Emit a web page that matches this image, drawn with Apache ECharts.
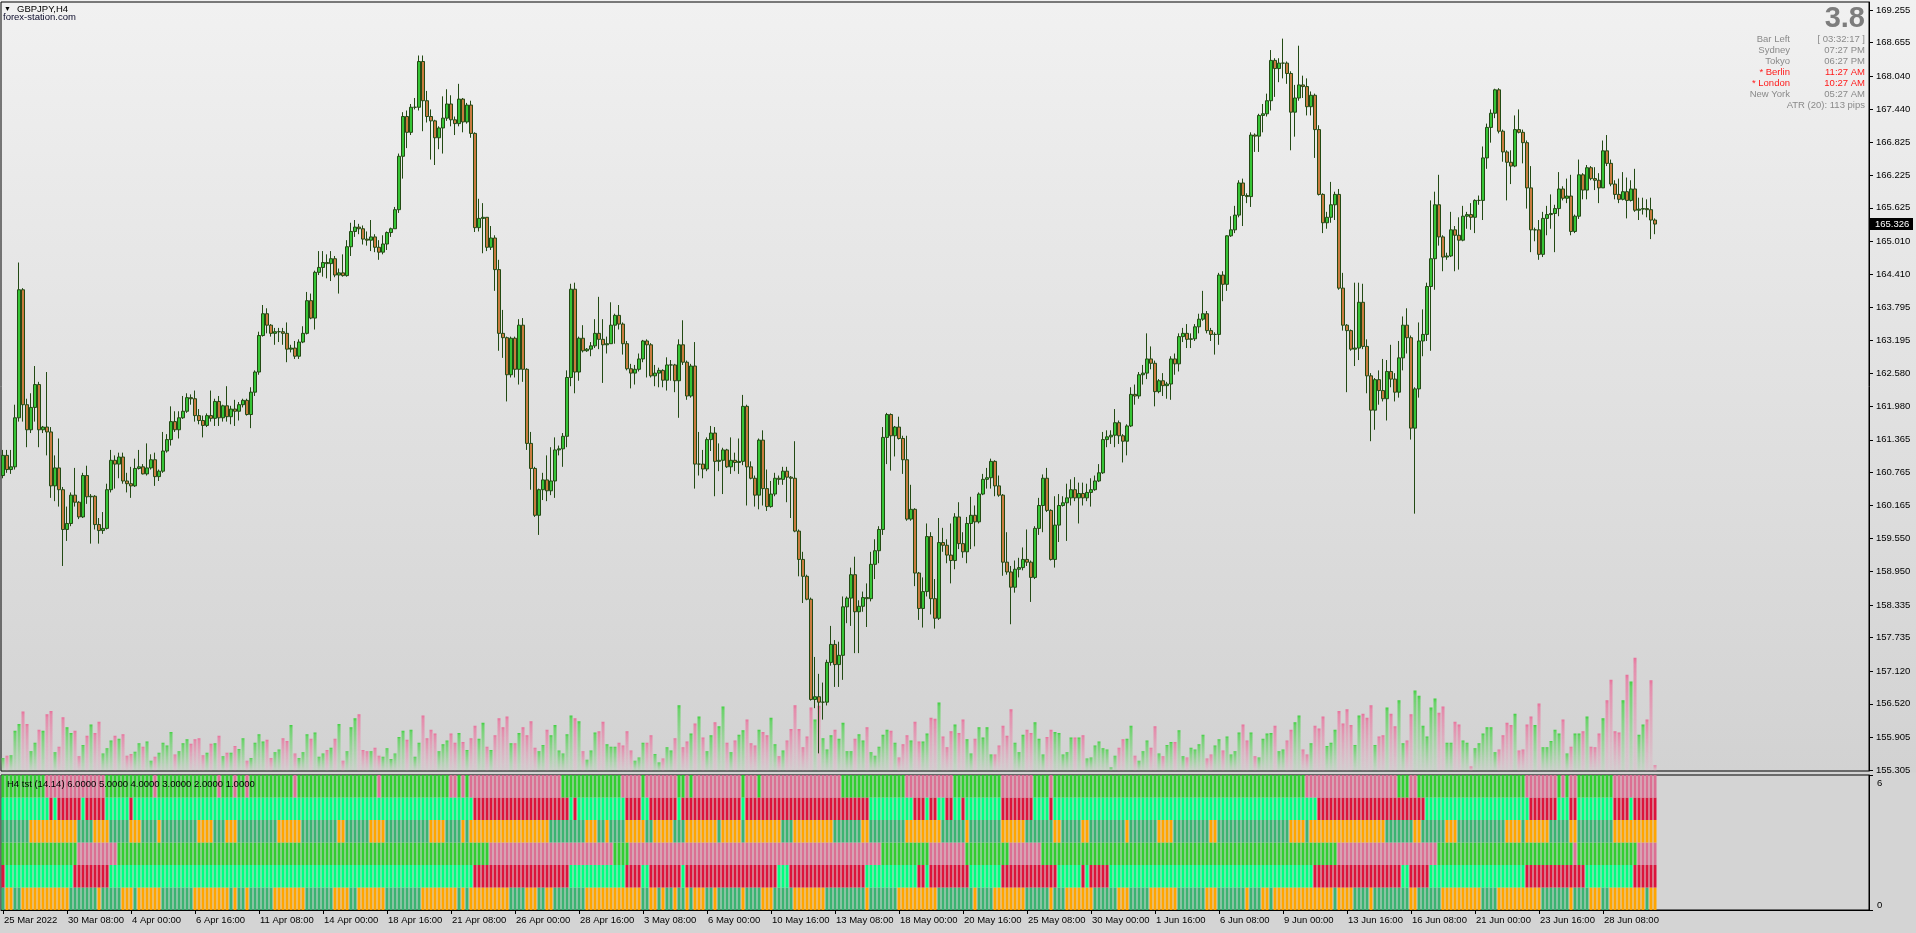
<!DOCTYPE html>
<html><head><meta charset="utf-8">
<script src="https://cdn.jsdelivr.net/npm/echarts@6/dist/echarts.min.js"></script>
<style>
html,body{margin:0;padding:0;width:1916px;height:933px;overflow:hidden;
background:linear-gradient(to bottom,#f1f1f1 0px,#d2d2d2 772px,#d4d4d4 773px,#d4d4d4 933px);}
#c{width:1916px;height:933px;}
</style></head><body><div id="c"></div>
<script>
// ---------------- DATA ----------------
const symbolTitle = 'GBPJPY,H4';
const firstOpen = 160.71;
const closes = [
161.08,160.82,160.87,161.77,164.12,162.01,161.55,161.96,162.38,161.55,
161.60,161.51,160.52,160.85,160.45,159.72,159.83,160.35,160.22,159.95,
160.71,160.32,160.33,159.81,159.70,159.74,160.45,160.99,160.92,161.05,
160.61,160.56,160.52,160.84,160.87,160.74,160.85,161.00,160.69,160.79,
161.16,161.37,161.70,161.55,161.77,161.89,162.14,162.12,161.81,161.72,
161.63,161.81,161.76,162.07,161.77,161.99,161.79,161.93,161.89,162.01,
162.09,161.83,162.24,162.61,163.28,163.68,163.47,163.32,163.35,163.35,
163.32,163.03,163.05,162.90,163.16,163.32,163.92,163.60,164.44,164.53,
164.62,164.60,164.69,164.39,164.43,164.38,164.91,165.19,165.27,165.24,
165.05,165.03,165.09,164.90,164.81,164.96,165.17,165.24,165.59,166.57,
167.30,167.01,167.47,167.47,168.31,167.59,167.30,167.22,166.91,167.09,
167.27,167.53,167.24,167.17,167.62,167.20,167.51,166.99,165.26,165.43,
165.45,164.90,165.07,164.49,163.32,163.24,162.56,163.23,162.66,163.47,
162.66,161.30,160.84,159.98,160.45,160.63,160.43,160.61,161.18,161.20,
161.43,162.51,164.13,162.61,163.23,163.00,163.03,163.09,163.32,163.21,
163.11,163.13,163.47,163.65,163.49,163.13,162.67,162.59,162.66,162.85,
163.18,163.11,162.54,162.59,162.64,162.46,162.74,162.74,162.45,163.11,
162.79,162.17,162.72,160.92,160.92,160.83,161.37,161.49,160.97,160.99,
161.18,160.87,160.99,160.95,160.97,161.98,160.87,160.66,160.35,161.36,
160.47,160.14,160.37,160.66,160.64,160.79,160.68,160.66,159.69,159.17,
158.86,158.44,156.60,156.65,156.55,156.55,157.28,157.61,157.24,157.41,
158.30,158.46,158.89,158.21,158.31,158.47,158.45,159.08,159.33,159.72,
161.41,161.83,161.44,161.60,161.39,161.00,159.91,160.09,158.92,158.27,
158.58,159.59,158.45,158.09,159.48,159.43,159.25,159.15,159.95,159.46,
159.31,159.83,159.98,159.86,160.37,160.64,160.67,160.97,160.52,160.35,
159.12,158.94,158.66,158.99,159.02,159.17,159.12,158.84,159.74,160.16,
160.66,160.07,159.17,159.80,160.16,160.21,160.30,160.45,160.30,160.38,
160.30,160.40,160.45,160.61,160.76,161.37,161.42,161.45,161.68,161.44,
161.34,161.62,162.20,162.17,162.56,162.59,162.85,162.77,162.25,162.45,
162.36,162.39,162.85,162.76,163.26,163.32,163.21,163.22,163.44,163.58,
163.68,163.37,163.30,163.30,164.39,164.22,165.11,165.22,165.49,166.08,
165.85,165.83,166.96,166.94,167.32,167.35,167.59,168.33,168.18,168.28,
168.28,168.09,167.38,167.64,167.88,167.85,167.48,167.69,167.06,165.87,
165.35,165.45,165.68,165.87,164.15,163.47,163.37,163.03,163.05,163.89,
163.08,162.54,161.91,162.47,162.27,162.12,162.62,162.48,162.24,162.87,
163.47,163.24,161.58,162.30,163.18,163.30,164.18,164.69,165.68,165.09,
164.72,164.74,165.22,165.12,165.03,165.47,165.50,165.45,165.76,165.76,
166.54,167.10,167.36,167.79,167.03,166.65,166.46,166.39,167.06,167.01,
166.82,165.99,165.22,165.22,164.77,165.43,165.50,165.52,165.61,165.97,
165.80,165.84,165.19,165.47,166.23,165.95,166.36,166.16,166.13,165.99,
166.67,166.44,166.06,165.87,165.78,165.92,165.76,165.97,165.58,165.60,
165.61,165.59,165.40,165.326];
const highs = [
161.18,161.18,161.18,162.01,164.62,164.15,162.12,162.22,162.72,162.43,
161.62,162.61,161.60,161.08,161.39,160.50,160.14,160.40,160.85,160.24,
160.76,160.89,160.37,160.35,159.93,160.04,160.56,161.18,161.08,161.13,
161.13,160.76,160.87,161.02,161.18,160.92,161.30,161.10,161.13,160.82,
161.51,161.47,161.98,161.89,161.89,162.17,162.22,162.20,162.27,161.93,
161.81,161.85,162.27,162.12,162.17,162.01,162.35,161.99,162.10,162.06,
162.12,162.12,162.33,162.64,163.35,163.84,163.78,163.49,163.42,163.42,
163.42,163.52,163.11,163.18,163.21,163.45,164.08,164.05,164.47,164.83,
164.83,164.77,164.83,164.74,164.51,164.77,165.03,165.35,165.40,165.33,
165.30,165.19,165.40,165.14,165.03,165.12,165.19,165.26,165.64,166.62,
167.38,167.41,167.53,167.64,168.42,168.42,167.77,167.43,167.24,167.12,
167.67,167.80,167.69,167.30,167.90,167.64,167.55,167.59,167.01,165.79,
165.71,165.45,165.29,165.12,164.67,163.75,163.26,163.26,163.26,163.58,
163.60,162.68,161.51,160.87,160.47,160.76,161.08,161.23,161.41,161.26,
161.49,162.64,164.23,164.25,163.26,163.47,163.05,163.16,163.58,163.99,
163.58,163.26,163.89,163.68,163.84,163.52,163.18,162.76,162.74,162.95,
163.20,163.21,163.14,162.74,162.69,162.66,162.88,162.83,162.76,163.21,
163.56,162.82,162.76,163.16,161.51,161.18,161.41,161.62,161.60,161.30,
161.22,161.20,161.41,161.13,161.39,162.19,162.01,160.97,160.71,161.39,
161.54,160.82,160.61,160.76,160.71,160.87,160.87,160.70,161.34,159.72,
159.31,158.89,158.47,157.38,157.07,156.91,157.33,157.95,157.69,157.66,
158.49,158.49,159.02,159.22,158.42,158.58,158.73,159.31,159.54,159.78,
161.60,161.86,161.85,161.62,161.79,161.44,161.44,160.54,160.11,158.94,
158.84,159.83,159.67,158.81,159.93,159.75,159.54,159.83,160.02,160.22,
159.67,159.95,160.32,160.16,160.40,160.74,160.85,161.02,160.99,160.71,
160.37,159.67,159.05,159.15,159.20,159.39,159.72,159.15,159.78,160.30,
160.73,160.85,160.09,160.33,160.37,160.33,160.56,160.64,160.68,160.58,
160.58,160.56,160.66,160.71,160.92,161.51,161.54,161.54,161.93,161.72,
161.47,161.65,162.33,162.38,162.61,162.74,163.32,163.08,162.82,162.48,
162.59,162.43,162.90,162.95,163.32,163.42,163.49,163.32,163.49,163.68,
164.10,163.73,163.42,163.34,164.43,164.46,165.12,165.47,165.66,166.13,
166.16,165.89,167.01,166.99,167.35,167.53,167.72,168.52,168.37,168.37,
168.73,168.31,168.13,167.88,168.60,168.05,168.00,167.76,167.72,167.14,
165.89,165.55,166.10,165.92,165.97,164.43,163.49,163.39,164.25,164.25,
164.23,163.21,162.59,162.50,162.64,162.85,162.83,163.11,162.59,163.18,
163.63,163.78,163.28,162.33,163.52,163.76,164.25,165.76,165.92,166.23,
165.12,164.80,165.55,165.29,165.45,165.66,165.55,165.71,165.78,165.85,
166.75,167.17,167.43,167.81,167.82,167.06,166.68,166.68,167.32,167.43,
167.06,166.86,166.39,165.26,165.40,165.55,165.66,165.87,165.68,166.28,
166.02,166.16,166.23,165.50,166.51,166.26,166.41,166.39,166.37,166.26,
166.86,166.96,166.51,166.13,166.16,166.28,166.18,166.13,166.34,165.81,
165.81,165.78,165.81,165.43];
const lows = [
160.66,160.76,160.74,160.82,161.70,161.70,161.23,161.49,161.70,161.23,
161.49,161.08,160.30,160.24,160.14,159.05,159.51,159.78,160.14,159.91,
159.93,160.19,159.46,159.72,159.46,159.64,159.72,160.40,160.47,160.66,
160.56,160.40,160.30,160.50,160.82,160.73,160.71,160.82,160.52,160.61,
160.76,161.13,161.26,161.51,161.39,161.75,161.86,162.01,161.70,161.65,
161.41,161.60,161.70,161.62,161.62,161.70,161.70,161.65,161.62,161.72,
161.96,161.81,161.58,162.17,162.56,163.26,163.32,163.26,163.11,163.16,
163.11,162.79,162.97,162.85,162.85,163.14,163.30,163.58,163.39,164.39,
164.36,164.33,164.28,164.35,164.05,164.36,164.36,164.74,165.09,165.14,
164.95,164.93,164.83,164.81,164.67,164.77,164.85,165.09,165.24,165.53,
166.16,166.72,166.96,167.43,167.41,167.03,167.19,166.51,166.41,166.70,
166.62,167.22,167.12,166.96,167.12,167.01,167.17,166.91,165.18,165.19,
164.79,164.83,164.85,164.10,163.00,162.87,162.07,162.51,162.51,162.38,
162.43,161.18,160.45,159.95,159.62,160.26,160.24,160.35,160.30,161.08,
160.87,161.23,162.35,162.22,162.45,162.97,162.98,162.90,163.05,163.03,
162.41,162.95,163.13,163.13,163.39,162.93,162.64,162.31,162.38,162.62,
162.79,162.51,162.51,162.35,162.33,162.33,162.27,162.45,162.24,161.77,
162.74,162.10,162.14,160.47,160.71,160.66,160.79,161.16,160.33,160.79,
160.37,160.85,160.74,160.79,160.74,160.90,160.16,160.64,160.14,160.09,
160.16,160.06,160.12,160.33,160.54,160.54,160.22,159.93,159.67,158.86,
158.37,158.42,156.58,156.44,155.61,156.23,156.49,157.22,156.83,156.83,
156.96,158.00,157.95,157.45,157.45,158.21,157.93,158.40,158.81,159.10,
159.62,160.92,160.80,161.06,161.37,160.74,159.88,159.88,158.68,158.06,
157.92,158.49,158.16,157.90,158.06,159.31,159.10,158.73,158.99,159.36,
159.20,159.10,159.36,159.41,159.83,160.35,160.47,160.47,160.33,160.32,
158.87,158.89,157.98,158.56,158.84,158.97,159.05,158.39,158.81,159.62,
159.67,160.04,159.15,159.02,159.49,160.14,159.51,160.16,160.24,159.83,
160.16,160.24,160.14,160.43,160.59,160.74,161.23,161.29,161.23,161.29,
160.95,161.08,161.60,162.01,162.12,162.38,162.48,162.66,161.98,162.22,
162.17,162.12,162.10,162.56,162.62,163.16,163.05,163.05,163.18,163.32,
163.55,163.32,163.18,162.93,163.11,163.91,164.10,165.09,165.16,165.45,
165.29,165.71,165.64,166.65,166.65,167.01,167.30,167.41,167.66,167.93,
168.00,167.90,166.68,166.93,167.59,167.64,167.32,167.32,166.54,165.85,
165.16,165.24,165.35,165.40,164.12,163.37,162.24,163.00,162.72,162.83,
163.03,162.22,161.34,161.55,162.01,162.07,161.72,162.33,162.07,162.14,
162.64,162.95,161.37,160.01,162.14,162.90,163.18,163.00,164.12,164.93,
164.46,164.67,164.72,164.46,164.49,165.01,165.24,165.22,165.16,165.68,
165.40,166.34,166.82,167.27,166.99,166.47,165.76,166.06,166.37,166.99,
166.44,165.61,164.81,165.01,164.67,164.72,165.12,165.24,164.81,165.47,
165.76,165.71,165.12,165.16,165.42,165.78,165.78,166.13,165.95,165.71,
165.99,166.39,166.02,165.78,165.71,165.76,165.43,165.74,165.55,165.40,
165.50,165.45,165.05,165.14];
const volumes = [
23,27,28,71,83,105,83,35,50,73, 71,100,106,33,43,95,77,67,71,26,
46,62,82,67,87,31,40,54,62,57, 65,27,30,34,49,43,52,18,25,32,
50,45,69,29,35,49,56,48,56,58, 28,32,48,49,62,26,32,32,44,39,
58,18,23,50,65,52,55,23,33,38, 58,53,81,31,23,33,65,57,68,25,
31,37,41,57,83,18,35,77,93,100, 37,35,35,41,27,25,40,21,31,60,
71,55,73,25,50,98,58,73,66,35, 47,54,66,50,67,51,37,58,80,57,
85,43,37,63,93,77,96,49,49,67, 77,63,88,41,35,46,73,63,81,36,
31,65,98,93,88,35,20,36,68,70, 87,47,43,43,50,45,70,36,18,24,
50,50,63,30,15,22,42,36,58,116, 42,52,66,84,96,59,35,63,86,79,
114,50,33,54,64,72,91,49,45,73, 69,63,94,47,26,36,54,74,116,74,
42,61,112,91,115,58,38,63,73,57, 85,35,35,57,65,54,77,33,27,43,
64,73,71,50,24,47,63,54,87,52, 52,66,94,92,121,61,42,70,82,67,
91,56,31,57,77,59,77,29,29,45, 80,62,109,50,33,64,73,67,86,57,
29,60,73,69,67,29,33,59,59,59, 63,22,24,45,52,40,38,6,27,41,
56,57,80,27,18,35,54,41,79,31, 26,46,51,51,72,26,24,41,38,47,
64,22,29,45,56,36,61,29,35,68, 82,54,68,26,24,57,66,67,80,35,
38,54,73,86,98,38,29,49,80,75, 96,44,50,73,106,84,109,81,46,98,
101,94,116,46,61,63,112,101,79,125, 49,54,100,142,133,80,61,112,128,103,
114,50,50,87,82,54,50,8,40,49, 66,77,77,33,38,63,85,81,101,36,
38,82,96,81,119,42,42,53,73,66, 91,31,43,66,66,70,96,43,42,66,
93,125,161,70,68,125,170,158,200,64, 82,91,160,10];

// lower pane: 6 rows (top to bottom), run lengths alternating, starting with state rowStarts[k] (1 = up colour)
const rowStarts = [1,1,1,1,0,1];
const row1Runs = [11,15,12,1,15,1,3,1,2,1,11,1,20,1,17,2,1,1,1,23,15,5,1,8,2,1,1,12,1,3,1,20,16,12,12,8,4,1,63,23,3,2,27,8,1,1,1,2,9,11];
const row2Runs = [12,1,1,6,1,5,6,1,85,24,1,1,12,4,2,7,1,15,1,31,11,3,1,2,2,2,2,1,9,8,4,1,66,27,26,7,3,2,9,4,1,6];
const row3Runs = [7,12,4,4,5,3,4,1,9,4,3,3,10,6,9,2,6,4,11,4,4,1,1,20,9,3,2,1,4,5,2,5,3,8,1,5,1,9,3,10,7,2,9,9,6,1,8,6,7,2,5,2,9,1,7,4,9,2,18,4,1,19,7,2,6,3,12,4,1,6,5,2,9,11];
const row4Runs = [19,10,93,31,4,63,12,9,11,8,74,25,34,1,15,5];
const row5Runs = [1,17,9,91,24,14,4,2,8,1,23,3,19,13,2,1,10,8,14,6,1,1,5,51,22,2,5,24,15,12,6];
const row6Runs = [1,2,2,12,7,1,5,3,1,6,8,9,1,1,2,1,6,8,7,4,2,7,9,9,1,1,1,10,4,3,2,2,8,14,2,2,1,1,2,1,2,1,1,3,2,1,6,1,4,3,5,8,10,1,7,10,9,1,4,8,6,1,3,7,6,3,5,7,7,3,7,1,3,2,1,15,1,4,4,1,9,2,6,10,4,11,7,1,4,3,2,9,1,2];
const rowColors = [['#32cd32','#db7093'],['#00ff7f','#dc143c'],['#3cb371','#ffa500'],
                   ['#32cd32','#db7093'],['#00ff7f','#dc143c'],['#3cb371','#ffa500']];

const priceTicks = [155.305,155.905,156.520,157.120,157.735,158.335,158.950,159.550,160.165,160.765,
161.365,161.980,162.580,163.195,163.795,164.410,165.010,165.625,166.225,166.825,167.440,168.040,168.655,169.255];
const xTickLabels = ['25 Mar 2022','30 Mar 08:00','4 Apr 00:00','6 Apr 16:00','11 Apr 08:00','14 Apr 00:00',
'18 Apr 16:00','21 Apr 08:00','26 Apr 00:00','28 Apr 16:00','3 May 08:00','6 May 00:00','10 May 16:00',
'13 May 08:00','18 May 00:00','20 May 16:00','25 May 08:00','30 May 00:00','1 Jun 16:00','6 Jun 08:00',
'9 Jun 00:00','13 Jun 16:00','16 Jun 08:00','21 Jun 00:00','23 Jun 16:00','28 Jun 08:00'];
const infoLabels = ['Bar Left','Sydney','Tokyo','* Berlin','* London','New York'];
const infoValues = ['[ 03:32:17 ]','07:27 PM','06:27 PM','11:27 AM','10:27 AM','05:27 AM'];
const infoRed = [false,false,false,true,true,false];
const spreadText = '3.8';
const atrText = 'ATR (20): 113 pips';
const indicatorTitle = 'H4 tst (14.14) 6.0000 5.0000 4.0000 3.0000 2.0000 1.0000';

// ---------------- BUILD ----------------
const N = closes.length;          // candles
const SLOTS = 467;                // bars incl. right chart shift
const TICK_EVERY = 16;
const FONT = '"Liberation Sans", Arial, sans-serif';

function two(n){return (n<10?'0':'')+n;}
const cats = [];
{
  let t = Date.UTC(2022,2,25,16);
  while (cats.length < SLOTS) {
    const d = new Date(t);
    const wd = d.getUTCDay();
    if (wd !== 0 && wd !== 6) {
      cats.push(d.getUTCFullYear()+'.'+two(d.getUTCMonth()+1)+'.'+two(d.getUTCDate())+' '+two(d.getUTCHours())+':00');
    }
    t += 4*3600*1000;
  }
}

const candleData = closes.map((c,i)=>[i?closes[i-1]:firstOpen, c, lows[i], highs[i]]);

const gUp = new echarts.graphic.LinearGradient(0,0,0,1,[
  {offset:0,color:'#40d040'},{offset:0.06,color:'rgba(80,210,80,0.8)'},{offset:1,color:'rgba(120,210,120,0.10)'}]);
const gDn = new echarts.graphic.LinearGradient(0,0,0,1,[
  {offset:0,color:'#e8709a'},{offset:0.06,color:'rgba(232,120,160,0.8)'},{offset:1,color:'rgba(232,150,180,0.12)'}]);
const volData = volumes.map((v,i)=>{
  const up = candleData[i][1] >= candleData[i][0];
  return {value:v, itemStyle:{color: up?gUp:gDn}};
});

function expand(start, runs){
  const out=[]; let s=start;
  for (const r of runs){ for(let k=0;k<r;k++) out.push(s); s=1-s; }
  return out;
}
const allRuns = [row1Runs,row2Runs,row3Runs,row4Runs,row5Runs,row6Runs];
const rowStates = allRuns.map((r,k)=>expand(rowStarts[k], r));
rowStates.forEach((r,k)=>{ if(r.length!==N) console.log('row',k+1,'len',r.length); });

const rowSeries = [];
for (let k=5;k>=0;k--) {   // bottom row first in stack
  rowSeries.push({
    type:'bar', xAxisIndex:1, yAxisIndex:2, stack:'rows', barWidth:3,
    silent:true, animation:false,
    data: rowStates[k].map(s=>({value:1, itemStyle:{color: s ? rowColors[k][0] : rowColors[k][1]}}))
  });
}

const tickInterval = (idx)=> idx % TICK_EVERY === 0 && idx/TICK_EVERY < xTickLabels.length;

const chart = echarts.init(document.getElementById('c'), null, {renderer:'canvas'});
chart.setOption({
  animation:false,
  backgroundColor:'transparent',
  textStyle:{fontFamily:FONT},
  grid:[
    {left:1, top:2, width:1868, height:769, show:true, borderColor:'#000', borderWidth:1, backgroundColor:'transparent'},
    {left:1, top:775, width:1868, height:135, show:true, borderColor:'#000', borderWidth:1, backgroundColor:'#d4d4d4'}
  ],
  xAxis:[
    {gridIndex:0, type:'category', data:cats, boundaryGap:true, show:false},
    {gridIndex:1, type:'category', data:cats, boundaryGap:true,
     axisLine:{show:true, lineStyle:{color:'#000', width:1}},
     axisTick:{show:true, alignWithLabel:true, interval:tickInterval, length:4, lineStyle:{color:'#000'}},
     axisLabel:{show:true, interval:tickInterval, formatter:(v,idx)=>xTickLabels[Math.round(idx/TICK_EVERY)],
       align:'left', margin:5, padding:[0,0,0,1], color:'#000', fontSize:9.5, fontFamily:FONT},
     splitLine:{show:false}}
  ],
  yAxis:[
    {gridIndex:0, type:'value', position:'right', min:155.2866, max:169.402,
     axisLine:{show:true, lineStyle:{color:'#000'}},
     axisTick:{show:true, length:4, customValues:priceTicks, lineStyle:{color:'#000'}},
     axisLabel:{show:true, customValues:priceTicks, formatter:v=>v.toFixed(3), margin:7, color:'#000', fontSize:9.5, fontFamily:FONT},
     splitLine:{show:false}},
    {gridIndex:0, type:'value', min:0, max:1357, show:false, splitLine:{show:false}},
    {gridIndex:1, type:'value', position:'right', min:0, max:6,
     axisLine:{show:true, lineStyle:{color:'#000'}},
     axisTick:{show:true, length:4, customValues:[0,6], lineStyle:{color:'#000'}},
     axisLabel:{show:false}, splitLine:{show:false}}
  ],
  series:[
    {type:'bar', name:'volume', xAxisIndex:0, yAxisIndex:1, barWidth:3, silent:true, data:volData, z:1},
    {type:'candlestick', name:'GBPJPY', xAxisIndex:0, yAxisIndex:0, barWidth:3, z:3,
     data:candleData,
     itemStyle:{color:'#36c436', color0:'#c97b3f', borderColor:'#234a14', borderColor0:'#234a14', borderColorDoji:'#234a14', borderWidth:1}},
    ...rowSeries
  ]
});

// ----- texts & price label -----
const lastClose = closes[N-1];
const py = chart.convertToPixel({yAxisIndex:0}, lastClose);
const gfx = [];
function txt(x,y,text,opt){
  gfx.push({type:'text', x:x, y:y, silent:true, z:100,
    style:Object.assign({text:text, fill:'#000', fontSize:9.5, fontFamily:FONT, align:'left', verticalAlign:'middle'}, opt||{})});
}
txt(4,9,'\u25BC',{fontSize:7});
txt(17,9,symbolTitle);
txt(3,17,'forex-station.com',{fill:'#0a0a2a'});
txt(1865,19,spreadText,{fontSize:29, fontWeight:'bold', fill:'#7d7d7d', align:'right'});
infoLabels.forEach((l,i)=>{
  const y = 39 + i*11;
  const col = infoRed[i] ? '#ff1a1a' : '#8a8a8a';
  txt(1790,y,l,{fill:col, align:'right'});
  txt(1865,y,infoValues[i],{fill:col, align:'right'});
});
txt(1865,105,atrText,{fill:'#8a8a8a', align:'right'});
txt(7,784,indicatorTitle);
txt(1877,783,'6');
txt(1877,905,'0');
gfx.push({type:'rect', silent:true, z:99, shape:{x:1870, y:Math.round(py)-6, width:43, height:12}, style:{fill:'#000'}});
txt(1875,Math.round(py),lastClose.toFixed(3),{fill:'#fff'});
chart.setOption({graphic:gfx});
</script>
</body></html>
